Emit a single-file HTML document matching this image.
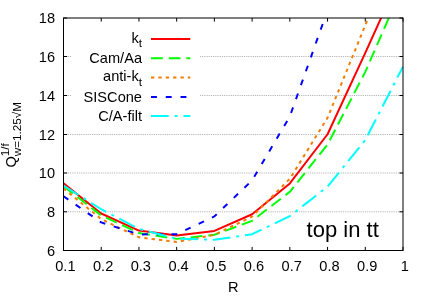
<!DOCTYPE html>
<html><head><meta charset="utf-8"><title>plot</title>
<style>
html,body{margin:0;padding:0;background:#fff;}
body{width:425px;height:298px;overflow:hidden;font-family:"Liberation Sans",sans-serif;}
svg{display:block;will-change:transform;}
text{font-family:"Liberation Sans",sans-serif;fill:#000;}
</style></head><body>
<svg width="425" height="298" viewBox="0 0 425 298">
<rect width="425" height="298" fill="#fff"/>
<defs><clipPath id="c"><rect x="63.5" y="18" width="339.5" height="232.5"/></clipPath></defs>

<g stroke="#b6b6b6" stroke-width="1" stroke-dasharray="1.2 1">
<line x1="63.5" y1="211.80" x2="403" y2="211.80"/>
<line x1="63.5" y1="173.00" x2="403" y2="173.00"/>
<line x1="63.5" y1="134.50" x2="403" y2="134.50"/>
<line x1="63.5" y1="95.50" x2="403" y2="95.50"/>
<line x1="63.5" y1="56.50" x2="403" y2="56.50"/>
</g>
<rect x="71.5" y="29" width="127.5" height="97" fill="#fff"/>
<g clip-path="url(#c)" fill="none" stroke-width="2" stroke-linejoin="round">
<polyline points="63.50,183.27 101.22,213.49 138.94,230.54 176.67,235.39 214.39,230.93 252.11,214.27 289.83,183.46 327.56,134.25 365.28,52.88 403.00,-30.44" stroke="#ff0000"/>
<polyline points="63.50,186.18 101.22,215.43 138.94,233.06 176.67,238.88 214.39,234.81 252.11,220.86 289.83,191.79 327.56,144.52 365.28,71.86 403.00,-14.36" stroke="#00ff00" stroke-dasharray="11.8 5.9" stroke-dashoffset="0"/>
<polyline points="63.50,188.50 101.22,219.11 138.94,237.33 176.67,241.97 214.39,234.81 252.11,216.59 289.83,178.81 327.56,117.78 365.28,25.17 403.00,-65.31" stroke="#f67c00" stroke-dasharray="3.3 4.075" stroke-dashoffset="0"/>
<polyline points="63.50,196.25 101.22,222.41 138.94,234.42 176.67,234.22 214.39,216.40 252.11,180.36 289.83,116.43 327.56,10.25 365.28,-117.62 403.00,-214.50" stroke="#0000ff" stroke-dasharray="5.9 8.85" stroke-dashoffset="0"/>
<polyline points="63.50,185.59 101.22,209.23 138.94,228.99 176.67,238.68 214.39,239.84 252.11,234.22 289.83,216.21 327.56,186.56 365.28,140.06 403.00,66.63" stroke="#00ffff" stroke-dasharray="17.7 5.9 2.95 5.9" stroke-dashoffset="0"/>
</g>
<g stroke="#000" stroke-width="1">
<line x1="63.50" y1="250.5" x2="63.50" y2="246.9"/>
<line x1="63.50" y1="18" x2="63.50" y2="21.6"/>
<line x1="101.22" y1="250.5" x2="101.22" y2="246.9"/>
<line x1="101.22" y1="18" x2="101.22" y2="21.6"/>
<line x1="138.94" y1="250.5" x2="138.94" y2="246.9"/>
<line x1="138.94" y1="18" x2="138.94" y2="21.6"/>
<line x1="176.67" y1="250.5" x2="176.67" y2="246.9"/>
<line x1="176.67" y1="18" x2="176.67" y2="21.6"/>
<line x1="214.39" y1="250.5" x2="214.39" y2="246.9"/>
<line x1="214.39" y1="18" x2="214.39" y2="21.6"/>
<line x1="252.11" y1="250.5" x2="252.11" y2="246.9"/>
<line x1="252.11" y1="18" x2="252.11" y2="21.6"/>
<line x1="289.83" y1="250.5" x2="289.83" y2="246.9"/>
<line x1="289.83" y1="18" x2="289.83" y2="21.6"/>
<line x1="327.56" y1="250.5" x2="327.56" y2="246.9"/>
<line x1="327.56" y1="18" x2="327.56" y2="21.6"/>
<line x1="365.28" y1="250.5" x2="365.28" y2="246.9"/>
<line x1="365.28" y1="18" x2="365.28" y2="21.6"/>
<line x1="403.00" y1="250.5" x2="403.00" y2="246.9"/>
<line x1="403.00" y1="18" x2="403.00" y2="21.6"/>
<line x1="63.5" y1="250.50" x2="67.1" y2="250.50"/>
<line x1="403" y1="250.50" x2="399.4" y2="250.50"/>
<line x1="63.5" y1="211.80" x2="67.1" y2="211.80"/>
<line x1="403" y1="211.80" x2="399.4" y2="211.80"/>
<line x1="63.5" y1="173.00" x2="67.1" y2="173.00"/>
<line x1="403" y1="173.00" x2="399.4" y2="173.00"/>
<line x1="63.5" y1="134.50" x2="67.1" y2="134.50"/>
<line x1="403" y1="134.50" x2="399.4" y2="134.50"/>
<line x1="63.5" y1="95.50" x2="67.1" y2="95.50"/>
<line x1="403" y1="95.50" x2="399.4" y2="95.50"/>
<line x1="63.5" y1="56.50" x2="67.1" y2="56.50"/>
<line x1="403" y1="56.50" x2="399.4" y2="56.50"/>
<line x1="63.5" y1="18.00" x2="67.1" y2="18.00"/>
<line x1="403" y1="18.00" x2="399.4" y2="18.00"/>
</g>
<rect x="63.5" y="18" width="339.5" height="232.5" fill="none" stroke="#000" stroke-width="1"/>
<g font-size="14.6">
<text x="65.40" y="270.6" text-anchor="middle">0.1</text>
<text x="103.12" y="270.6" text-anchor="middle">0.2</text>
<text x="140.84" y="270.6" text-anchor="middle">0.3</text>
<text x="178.57" y="270.6" text-anchor="middle">0.4</text>
<text x="216.29" y="270.6" text-anchor="middle">0.5</text>
<text x="254.01" y="270.6" text-anchor="middle">0.6</text>
<text x="291.73" y="270.6" text-anchor="middle">0.7</text>
<text x="329.46" y="270.6" text-anchor="middle">0.8</text>
<text x="367.18" y="270.6" text-anchor="middle">0.9</text>
<text x="404.90" y="270.6" text-anchor="middle">1</text>
<text x="55" y="255.80" text-anchor="end">6</text>
<text x="55" y="217.05" text-anchor="end">8</text>
<text x="55" y="178.30" text-anchor="end">10</text>
<text x="55" y="139.55" text-anchor="end">12</text>
<text x="55" y="100.80" text-anchor="end">14</text>
<text x="55" y="62.05" text-anchor="end">16</text>
<text x="55" y="23.30" text-anchor="end">18</text>
</g>
<text x="233.2" y="292.1" font-size="14.6" text-anchor="middle">R</text>
<g transform="translate(16.2,167.6) rotate(-90)"><text x="0" y="0" font-size="14.6">Q</text><text x="11.4" y="-6.8" font-size="11.7">1/f</text><text x="11.4" y="4.7" font-size="11.7">w=1.25&#8730;M</text></g>
<text x="306.6" y="237" font-size="22">top in tt</text>
<g font-size="14.6">
<text x="142" y="42.9" text-anchor="end">k<tspan font-size="11.7" dy="4.3">t</tspan></text>
<text x="142" y="63.3" text-anchor="end">Cam/Aa</text>
<text x="142" y="81.4" text-anchor="end">anti-k<tspan font-size="11.7" dy="4.3">t</tspan></text>
<text x="142" y="101.9" text-anchor="end">SISCone</text>
<text x="142" y="121" text-anchor="end">C/A-filt</text>
</g>
<g fill="none" stroke-width="2">
<line x1="151" y1="39" x2="190.3" y2="39" stroke="#ff0000"/>
<line x1="151" y1="58.3" x2="190.3" y2="58.3" stroke="#00ff00" stroke-dasharray="11.8 5.9"/>
<line x1="151" y1="77.5" x2="190.3" y2="77.5" stroke="#f67c00" stroke-dasharray="3.3 4.075"/>
<line x1="151" y1="96.9" x2="190.3" y2="96.9" stroke="#0000ff" stroke-dasharray="5.9 8.85"/>
<line x1="151" y1="116" x2="190.3" y2="116" stroke="#00ffff" stroke-dasharray="17.7 5.9 2.95 5.9"/>
</g>
</svg></body></html>
